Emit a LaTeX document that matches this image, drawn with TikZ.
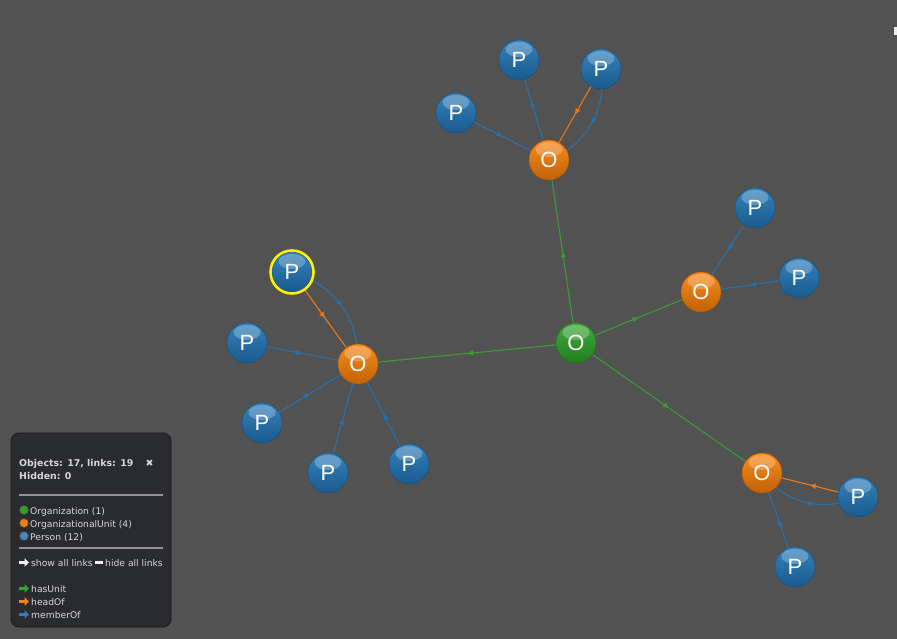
\documentclass[tikz,border=0pt]{standalone}
\usepackage{fontspec}
\setmainfont{DejaVu Sans}
\newfontfamily\nodefont{Liberation Sans}
\newfontfamily\legfont{DejaVu Sans}
\usetikzlibrary{arrows.meta,decorations.markings}
\definecolor{bgcol}{HTML}{525252}
\definecolor{legbg}{HTML}{2A2B2F}
\definecolor{legtext}{HTML}{D6D6D6}
\definecolor{pblue}{HTML}{1F74B4}
\definecolor{porange}{HTML}{F77E05}
\definecolor{pgreen}{HTML}{2CA028}
\definecolor{lgreen}{HTML}{3A9A3A}
\definecolor{lorange}{HTML}{E8781E}
\definecolor{lblue}{HTML}{2A70A6}
\definecolor{agreen}{HTML}{2EA82E}
\definecolor{aorange}{HTML}{F58220}
\definecolor{ablue}{HTML}{2C7BC0}
\pgfdeclarelayer{bglayer}
\pgfdeclarelayer{edges}
\pgfsetlayers{bglayer,edges,main}
\tikzset{
  ball/.style={circle, minimum size=40pt, inner sep=0pt, text=white,
    font=\nodefont\fontsize{22}{22}\selectfont,
    top color=#1!90!white, middle color=#1, bottom color=#1!78!black, draw=#1!70!black, line width=0.4pt,
    path picture={\fill[white,fill opacity=0.25] ([yshift=10.5pt]path picture bounding box.center) ellipse [x radius=13.5pt, y radius=7.5pt];}},
  pers/.style={ball=pblue},
  unit/.style={ball=porange},
  org/.style={ball=pgreen},
  midarr/.style={postaction={decorate}, decoration={markings,
    mark=at position 0.5 with {\arrow{Triangle[length=6pt,width=5pt]}}}},
  hasunit/.style={draw=lgreen, line width=1.1pt, midarr, color=lgreen},
  headof/.style={draw=lorange, line width=1.1pt, midarr, color=lorange},
  memberof/.style={draw=lblue, line width=1.1pt, midarr, color=lblue},
  legtxt/.style={anchor=base west, inner sep=0pt, text=legtext, font=\legfont\fontsize{9.2}{10}\selectfont},
  legbold/.style={legtxt, font=\legfont\bfseries\fontsize{9.4}{10}\selectfont},
  legdot/.style={circle, minimum size=8.5pt, inner sep=0pt, draw=black!60, line width=0.5pt},
  legarr/.style={line width=2.4pt, -{Triangle[length=4.5pt,width=8.5pt]}, shorten >=0pt}
}
\begin{document}
\begin{tikzpicture}[x=1pt,y=1pt]
\begin{pgfonlayer}{bglayer}
\fill[bgcol] (0,0) rectangle (897,-639);
\end{pgfonlayer}
\useasboundingbox (0,0) rectangle (897,-639);
\fill[white!85!gray] (894,-27) rectangle (897,-35);
% nodes
\node[org]  (org) at (576,-343) {O};
\node[unit] (ou1) at (358,-364) {O};
\node[unit] (ou2) at (549,-160) {O};
\node[unit] (ou3) at (701,-292) {O};
\node[unit] (ou4) at (762,-473) {O};
\node[pers] (t1) at (456,-113) {P};
\node[pers] (t2) at (519,-60) {P};
\node[pers] (t3) at (601,-69) {P};
\node[pers] (r1) at (755,-208) {P};
\node[pers] (r2) at (799,-278) {P};
\node[pers] (b1) at (858,-497) {P};
\node[pers] (b2) at (795,-567) {P};
\node[pers] (l1) at (292,-272) {P};
\node[pers] (l2) at (247,-343) {P};
\node[pers] (l3) at (262,-423) {P};
\node[pers] (l4) at (328,-473) {P};
\node[pers] (l5) at (409,-464) {P};
\draw[yellow, line width=2.6pt] (l1) circle (21.5pt);
% edges
\begin{pgfonlayer}{edges}
\draw[hasunit] (org.center) -- (ou1.center);
\draw[hasunit] (org.center) -- (ou2.center);
\draw[hasunit] (org.center) -- (ou3.center);
\draw[hasunit] (org.center) -- (ou4.center);
\draw[headof] (l1.center) -- (ou1.center);
\draw[headof] (t3.center) -- (ou2.center);
\draw[headof] (b1.center) -- (ou4.center);
\draw[memberof] (l1.center) to[bend left=38] (ou1.center);
\draw[memberof] (t3.center) to[bend left=38] (ou2.center);
\draw[memberof] (b1.center) to[bend left=38] (ou4.center);
\draw[memberof] (l2.center) -- (ou1.center);
\draw[memberof] (l3.center) -- (ou1.center);
\draw[memberof] (l4.center) -- (ou1.center);
\draw[memberof] (l5.center) -- (ou1.center);
\draw[memberof] (t1.center) -- (ou2.center);
\draw[memberof] (t2.center) -- (ou2.center);
\draw[memberof] (r1.center) -- (ou3.center);
\draw[memberof] (r2.center) -- (ou3.center);
\draw[memberof] (b2.center) -- (ou4.center);
\end{pgfonlayer}
% legend
\node[draw=black!90, fill=legbg, rounded corners=8pt, line width=0.8pt, minimum width=160pt, minimum height=194pt, inner sep=0pt] (leg) at (91,-530) {};
\node[legbold] (lg1) at (19,-466) {Objects: 17, links: 19};
\node[legbold] (lgx) at (145.5,-466) {✖};
\node[legbold] (lg2) at (19,-479) {Hidden: 0};
\draw[gray!85, line width=1.5pt] (19,-495) -- (163,-495);
\node[legdot, fill=pgreen] (d1) at (24,-510) {};
\node[legtxt] (lo) at (30,-514) {Organization (1)};
\node[legdot, fill=porange] (d2) at (24,-523) {};
\node[legtxt] (lu) at (30,-527) {OrganizationalUnit (4)};
\node[legdot, fill=pblue!85!white] (d3) at (24,-536) {};
\node[legtxt] (lp) at (30,-540) {Person (12)};
\draw[gray!85, line width=1.5pt] (19,-548) -- (163,-548);
\coordinate (a0s) at (19,-562.5); \coordinate (a0e) at (29,-562.5);
\draw[legarr, white!88!gray] (a0s) -- (a0e);
\node[legtxt] (ls) at (31,-566) {show all links};
\coordinate (bs) at (95,-562.5); \coordinate (be) at (103,-562.5);
\draw[white!88!gray, line width=2.6pt] (bs) -- (be);
\node[legtxt] (lhd) at (105,-566) {hide all links};
\coordinate (a1s) at (19,-588.5); \coordinate (a1e) at (29,-588.5);
\draw[legarr, agreen] (a1s) -- (a1e);
\node[legtxt] (lh1) at (31,-592) {hasUnit};
\coordinate (a2s) at (19,-601.5); \coordinate (a2e) at (29,-601.5);
\draw[legarr, aorange] (a2s) -- (a2e);
\node[legtxt] (lh2) at (31,-605) {headOf};
\coordinate (a3s) at (19,-614.5); \coordinate (a3e) at (29,-614.5);
\draw[legarr, ablue] (a3s) -- (a3e);
\node[legtxt] (lh3) at (31,-618) {memberOf};
\end{tikzpicture}
\end{document}
